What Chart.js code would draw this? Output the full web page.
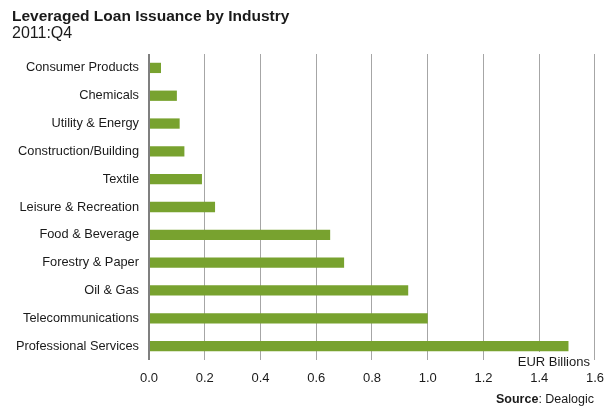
<!DOCTYPE html>
<html>
<head>
<meta charset="utf-8">
<script src="https://cdn.jsdelivr.net/npm/chart.js@4"></script>
<style>
  html, body { margin: 0; padding: 0; background: #ffffff; }
  #wrap { width: 615px; height: 408px; }
</style>
</head>
<body>
<div id="wrap"><canvas id="chart" width="615" height="408"></canvas></div>
<script>
// Leveraged loan issuance by industry, 2011:Q4 (EUR billions)
const industries = [
  'Consumer Products', 'Chemicals', 'Utility & Energy', 'Construction/Building',
  'Textile', 'Leisure & Recreation', 'Food & Beverage', 'Forestry & Paper',
  'Oil & Gas', 'Telecommunications', 'Professional Services'
];
const issuance = [0.043, 0.10, 0.11, 0.127, 0.19, 0.237, 0.65, 0.70, 0.93, 1.0, 1.505];
const xTicks = [0, 0.2, 0.4, 0.6, 0.8, 1.0, 1.2, 1.4, 1.6];

const titleText = 'Leveraged Loan Issuance by Industry';
const subtitleText = '2011:Q4';
const unitText = 'EUR Billions';
const sourceLabel = 'Source';
const sourceText = ': Dealogic';

const FONT = '"Liberation Sans", Arial, sans-serif';
const INK = '#1a1a1a';

const annotations = {
  id: 'annotations',
  afterDraw(chart) {
    const ctx = chart.ctx;
    const area = chart.chartArea;
    ctx.save();
    // heading
    ctx.fillStyle = INK;
    ctx.textAlign = 'left';
    ctx.textBaseline = 'alphabetic';
    ctx.font = 'bold 15.5px ' + FONT;
    ctx.fillText(titleText, 12, 21);
    ctx.font = '16px ' + FONT;
    ctx.fillText(subtitleText, 12, 38);

    // unit label on a white patch at the lower right of the plot
    ctx.font = '13px ' + FONT;
    const uw = ctx.measureText(unitText).width;
    const ux = area.right - 5;
    ctx.fillStyle = '#ffffff';
    ctx.fillRect(ux - uw - 4, area.bottom - 8, uw + 6, 18);
    ctx.fillStyle = INK;
    ctx.textAlign = 'right';
    ctx.textBaseline = 'middle';
    ctx.fillText(unitText, ux, area.bottom + 2);

    // source line
    ctx.font = '12.5px ' + FONT;
    const sw = ctx.measureText(sourceText).width;
    const sx = area.right - 1;
    ctx.textBaseline = 'middle';
    ctx.fillText(sourceText, sx, 400);
    ctx.font = 'bold 12.5px ' + FONT;
    ctx.fillText(sourceLabel, sx - sw, 400);
    ctx.restore();
  }
};

new Chart(document.getElementById('chart'), {
  type: 'bar',
  data: {
    labels: industries,
    datasets: [{
      data: issuance,
      backgroundColor: '#78a22f',
      borderWidth: 0,
      categoryPercentage: 1.0,
      barPercentage: 0.37
    }]
  },
  options: {
    indexAxis: 'y',
    responsive: false,
    animation: false,
    events: [],
    layout: { padding: { top: 54, right: 20, left: 0, bottom: 0 } },
    plugins: {
      legend: { display: false },
      title: { display: false },
      tooltip: { enabled: false }
    },
    scales: {
      x: {
        min: 0,
        max: 1.6,
        afterBuildTicks(scale) {
          scale.ticks = xTicks.map(v => ({ value: v }));
        },
        afterFit(scale) { scale.height = 48; },
        grid: {
          drawTicks: false,
          color: ctx => ctx.index === 0 ? '#7f7f7f' : '#a6a6a6',
          lineWidth: ctx => ctx.index === 0 ? 2 : 1
        },
        border: { display: false },
        ticks: {
          padding: 11,
          color: INK,
          font: { family: FONT, size: 13 },
          callback: v => Number(v).toFixed(1)
        }
      },
      y: {
        afterFit(scale) { scale.width = 149; },
        grid: { display: false, drawTicks: false },
        border: { display: false },
        ticks: {
          padding: 10,
          color: INK,
          font: { family: FONT, size: 12.8 }
        }
      }
    }
  },
  plugins: [annotations]
});
</script>
</body>
</html>
